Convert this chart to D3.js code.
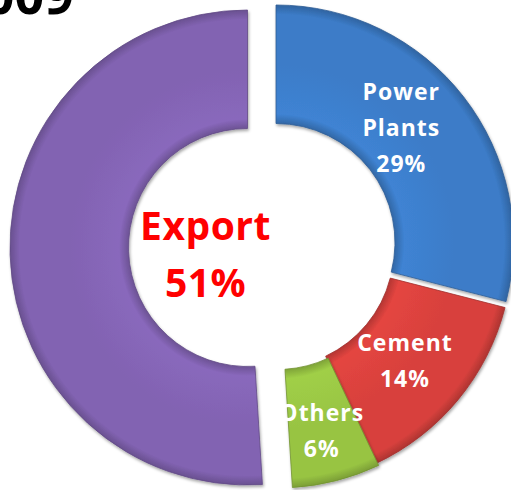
<!DOCTYPE html>
<html>
<head>
<meta charset="utf-8">
<script src="https://cdn.jsdelivr.net/npm/d3@7"></script>
<style>
  html, body { margin: 0; padding: 0; background: #fff; }
  svg { display: block; font-family: "Open Sans", "Noto Sans", sans-serif; }
</style>
</head>
<body>
<div id="wrapper"></div>
<script>
// data, clockwise from 12 o'clock
const categories = ['Power Plants', 'Cement', 'Others', 'Export']
const shares = [29, 14, 6, 51]
const title = '2009'

const width = 511
const height = 490
const colors = {
  'Power Plants': '#3c7cc8',
  'Cement': '#d8413d',
  'Others': '#98c443',
  'Export': '#8263b2',
}
// how far each slice is pulled off the centre
const shift = {
  'Power Plants': [1, -5.5],
  'Cement': [0, 0.5],
  'Others': [2.5, 2.5],
  'Export': [-27.5, -0.5],
}
const labelRadius = 170
const labelNudge = {
  'Power Plants': [-9, -10],
  'Cement': [-1, 4],
  'Others': [2, 16],
}

function renderChart (wrapper) {
  const cx = 275
  const cy = 248
  const outerR = 237.5
  const innerR = 119

  const svg = d3.select(wrapper).append('svg')
    .attr('width', width)
    .attr('height', height)

  const defs = svg.append('defs')
  const shadow = defs.append('filter').attr('id', 'shadow')
    .attr('x', '-10%').attr('y', '-10%').attr('width', '120%').attr('height', '120%')
  shadow.append('feDropShadow')
    .attr('dx', 1).attr('dy', 2).attr('stdDeviation', 1.5)
    .attr('flood-color', '#000').attr('flood-opacity', 0.35)

  // rough bevel, darker rim inside and out
  categories.forEach((c, i) => {
    const g = defs.append('radialGradient')
      .attr('id', 'grad' + i)
      .attr('gradientUnits', 'userSpaceOnUse')
      .attr('cx', 0).attr('cy', 0).attr('r', outerR)
    const base = d3.rgb(colors[c])
    g.append('stop').attr('offset', innerR / outerR).attr('stop-color', base.darker(0.5))
    g.append('stop').attr('offset', innerR / outerR + 0.04).attr('stop-color', base.brighter(0.15))
    g.append('stop').attr('offset', 0.75).attr('stop-color', base)
    g.append('stop').attr('offset', 0.96).attr('stop-color', base)
    g.append('stop').attr('offset', 1).attr('stop-color', base.darker(0.6))
  })

  svg.append('text')
    .attr('x', 74)
    .attr('y', 14)
    .attr('text-anchor', 'end')
    .attr('font-size', 52)
    .attr('font-weight', 'bold')
    .attr('fill', '#000')
    .text(title)

  const pie = d3.pie().sort(null).value(d => d.value)
  const arcs = pie(categories.map((c, i) => ({ name: c, value: shares[i], idx: i })))

  const arc = d3.arc().innerRadius(innerR).outerRadius(outerR)
  const labelArc = d3.arc().innerRadius(labelRadius).outerRadius(labelRadius)

  const root = svg.append('g').attr('transform', 'translate(' + cx + ',' + cy + ')')

  const slices = root.selectAll('g.slice').data(arcs).enter()
    .append('g')
    .attr('class', 'slice')
    .attr('transform', d => 'translate(' + shift[d.data.name][0] + ',' + shift[d.data.name][1] + ')')

  slices.append('path')
    .attr('d', arc)
    .attr('fill', d => 'url(#grad' + d.data.idx + ')')
    .attr('stroke', d => d3.rgb(colors[d.data.name]).darker(0.8))
    .attr('stroke-width', 0.8)
    .attr('filter', 'url(#shadow)')

  // labels on the ring
  const ringLabels = slices.filter(d => d.data.name !== 'Export')
  ringLabels.each(function (d) {
    const c = labelArc.centroid(d)
    const x = c[0] + labelNudge[d.data.name][0]
    const y = c[1] + labelNudge[d.data.name][1]
    const lines = d.data.name.split(' ').concat([d.data.value + '%'])
    const lh = 36
    const t = d3.select(this).append('text')
      .attr('text-anchor', 'middle')
      .attr('font-size', 23)
      .attr('font-weight', 'bold')
      .attr('letter-spacing', 1)
      .attr('fill', '#fff')
    lines.forEach((l, k) => {
      t.append('tspan')
        .attr('x', x)
        .attr('y', y - (lines.length - 1) / 2 * lh + 8 + k * lh)
        .text(l)
    })
  })

  // big label in the hole
  const exp = arcs.find(d => d.data.name === 'Export')
  const ex = shift.Export[0] - 42
  const ey = shift.Export[1]
  const et = root.append('text')
    .attr('text-anchor', 'middle')
    .attr('font-size', 39)
    .attr('font-weight', 'bold')
    .attr('letter-spacing', 0.5)
    .attr('fill', '#ff0000')
  ;[exp.data.name, exp.data.value + '%'].forEach((l, k) => {
    et.append('tspan')
      .attr('x', ex)
      .attr('y', ey - 8 + k * 57)
      .text(l)
  })
}

document.addEventListener('DOMContentLoaded', () => {
  renderChart(document.querySelector('#wrapper'))
})
</script>
</body>
</html>
